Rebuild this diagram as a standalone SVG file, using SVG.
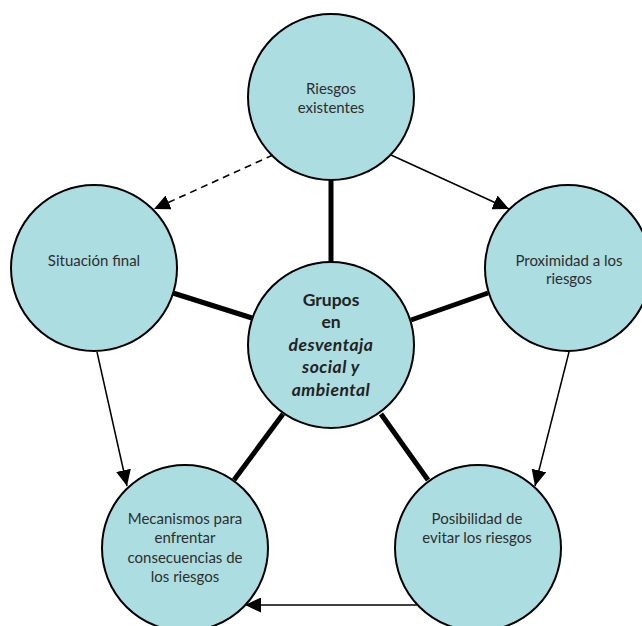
<svg xmlns="http://www.w3.org/2000/svg" width="642" height="626" viewBox="0 0 642 626">
<style>
.node{fill:#acdde0;stroke:#000;stroke-width:2}
.t{font-family:Lato,"Liberation Sans",sans-serif;font-size:15px;fill:#2e2e2e;text-anchor:middle}
.tb{font-family:Lato,"Liberation Sans",sans-serif;font-size:17.5px;fill:#222;text-anchor:middle;font-weight:bold}
.it{font-style:italic;letter-spacing:0.5px}
.thick{stroke:#000;stroke-width:5;fill:none}
.thin{stroke:#000;stroke-width:1.5;fill:none}
.dash{stroke:#000;stroke-width:1.6;fill:none;stroke-dasharray:7 5}
</style>
<defs>
<marker id="ah" markerUnits="userSpaceOnUse" markerWidth="17" markerHeight="15" refX="16" refY="7.5" orient="auto">
<path d="M0,0 L16,7.5 L0,15 z" fill="#000"/>
</marker>
</defs>
<rect width="642" height="626" fill="#fff"/>
<g id="n-riesgos">
<circle class="node" cx="331" cy="97" r="83"/>
<text class="t" x="331" y="94">Riesgos</text>
<text class="t" x="331" y="112.7">existentes</text>
</g>
<g id="n-situacion">
<circle class="node" cx="94" cy="268" r="83"/>
<text class="t" x="94" y="266">Situación final</text>
</g>
<g id="n-proximidad">
<circle class="node" cx="568" cy="268" r="83"/>
<text class="t" x="569" y="265.7">Proximidad a los</text>
<text class="t" x="569" y="284.3">riesgos</text>
</g>
<g id="n-grupos">
<circle class="node" cx="331" cy="345" r="83"/>
<text class="tb" x="331" y="305.7">Grupos</text>
<text class="tb" x="331" y="328.3">en</text>
<text class="tb it" x="331" y="350.7">desventaja</text>
<text class="tb it" x="331" y="373.3">social y</text>
<text class="tb it" x="331" y="395.7">ambiental</text>
</g>
<g id="n-mecanismos">
<circle class="node" cx="185" cy="548" r="83"/>
<text class="t" x="185" y="524.3">Mecanismos para</text>
<text class="t" x="185" y="543.3">enfrentar</text>
<text class="t" x="185" y="563">consecuencias de</text>
<text class="t" x="185" y="581.7">los riesgos</text>
</g>
<g id="n-posibilidad">
<circle class="node" cx="478" cy="548" r="83"/>
<text class="t" x="477" y="524.3">Posibilidad de</text>
<text class="t" x="477" y="543.3">evitar los riesgos</text>
</g>
<g id="connectors">
<line class="thick" x1="331" y1="180" x2="331" y2="262"/>
<line class="thick" x1="173" y1="293" x2="252" y2="318"/>
<line class="thick" x1="488" y1="293" x2="411" y2="320"/>
<line class="thick" x1="283" y1="414" x2="234" y2="480"/>
<line class="thick" x1="381" y1="414" x2="428" y2="480"/>
<line class="thin" x1="391" y1="155" x2="509" y2="209" marker-end="url(#ah)"/>
<line class="dash" x1="273" y1="155" x2="154" y2="209" marker-end="url(#ah)"/>
<line class="thin" x1="97" y1="352" x2="127" y2="486" marker-end="url(#ah)"/>
<line class="thin" x1="569" y1="352" x2="535" y2="486" marker-end="url(#ah)"/>
<line class="thin" x1="417" y1="605" x2="245" y2="605" marker-end="url(#ah)"/>
</g>
</svg>
